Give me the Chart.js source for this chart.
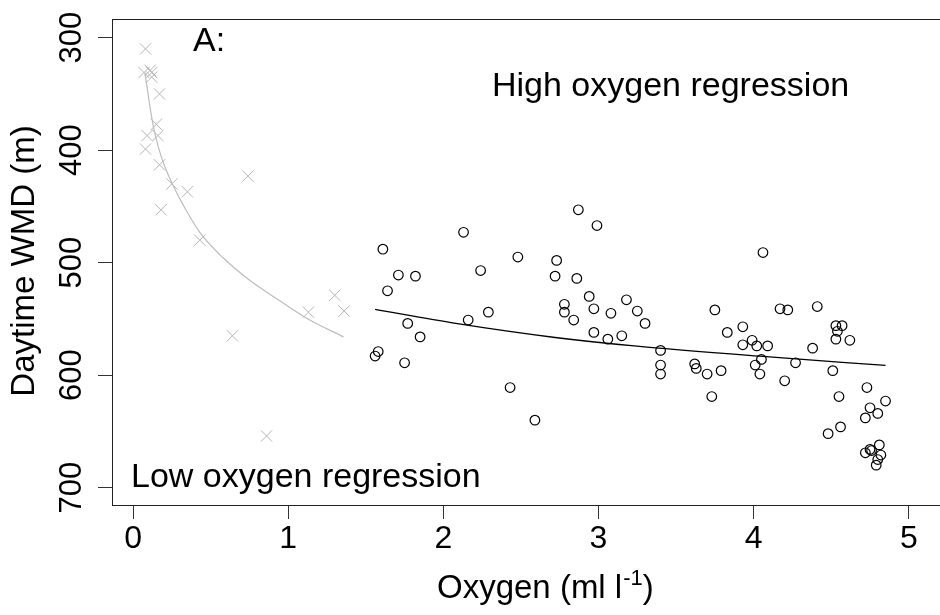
<!DOCTYPE html>
<html>
<head>
<meta charset="utf-8">
<script src="https://cdn.jsdelivr.net/npm/chart.js@4.4.1/dist/chart.umd.min.js"></script>
<style>
  html, body { margin: 0; padding: 0; background: #fff; overflow: hidden; }
  #wrap { width: 960px; height: 615px; }
</style>
</head>
<body>
<div id="wrap"><canvas id="chart" width="960" height="615"></canvas></div>
<script>
// low oxygen observations (x markers)
const lowX = [0.08, 0.07, 0.11, 0.12, 0.12, 0.17, 0.15, 0.09, 0.16, 0.08, 0.17, 0.25, 0.35, 0.18, 0.74, 0.43, 1.30, 1.13, 1.36, 0.64, 0.86];
const lowY = [310, 331, 329, 331, 335, 350, 377, 387, 387, 399, 413, 430, 437, 453, 423, 480, 529, 544, 543, 565, 654];

// high oxygen observations (circles)
const highX = [2.87, 2.99, 2.13, 1.61, 2.48, 2.73, 2.24, 1.71, 1.82, 2.72, 2.86, 1.64, 2.94, 2.78, 2.97, 2.78, 3.18, 3.25, 3.08, 2.29, 2.16, 2.84, 1.77, 3.30, 2.97, 3.06, 3.15, 1.85, 1.58, 1.56, 1.75, 2.43, 2.59,
  4.06, 3.75, 4.17, 4.22, 4.41, 3.83, 3.93, 3.93, 3.99, 4.02, 4.09, 4.53, 4.57, 4.54, 4.53, 4.62, 4.38, 3.40, 3.40, 3.40, 3.62, 3.63, 3.70, 3.79, 4.05, 4.01, 4.04, 4.20, 4.27, 4.51, 3.73, 4.55, 4.73, 4.85, 4.75, 4.80, 4.72, 4.56, 4.48,
  4.72, 4.75, 4.81, 4.82, 4.80, 4.79, 4.76];
const highY = [453, 467, 473, 488, 495, 498, 507, 511, 512, 512, 514, 525, 530, 537, 541, 544, 533, 543, 545, 544, 551, 551, 554, 554, 562, 568, 565, 566, 579, 583, 589, 611, 640,
  491, 542, 541, 542, 539, 562, 557, 573, 569, 574, 574, 556, 556, 561, 568, 569, 576, 578, 591, 599, 590, 594, 599, 596, 586, 591, 599, 605, 589, 596, 619, 619, 611, 623, 629, 634, 638, 646, 652,
  669, 666, 662, 671, 675, 680, 667];

// fitted regression curves
const lowFitX = [0.076, 0.09, 0.105, 0.128, 0.16, 0.2, 0.253, 0.34, 0.43, 0.575, 0.745, 0.936, 1.127, 1.357];
const lowFitY = [331, 344, 358, 377, 396, 413, 430, 453, 473, 495, 515, 533, 550, 566];
const highFitX = [1.56, 2.08, 2.72, 3.23, 4.08, 4.85];
const highFitY = [541.6, 554, 566.5, 574, 583.6, 591.3];

const xTicks = [0, 1, 2, 3, 4, 5];
const yTicks = [300, 400, 500, 600, 700];

const pts = (xs, ys) => xs.map((x, i) => ({ x: x, y: ys[i] }));

const FONT = '"Liberation Sans", Arial, sans-serif';

const textPlugin = {
  id: "texts",
  afterDraw(chart) {
    const ctx = chart.ctx;
    const a = chart.chartArea;
    const xs = chart.scales.x;
    const ys = chart.scales.y;
    ctx.save();
    // box
    ctx.strokeStyle = "#222";
    ctx.lineWidth = 1;
    ctx.strokeRect(Math.round(a.left) + 0.5, Math.round(a.top) + 0.5, a.right - a.left + 20, a.bottom - a.top);

    ctx.fillStyle = "#000";
    // x tick labels
    ctx.font = "32px " + FONT;
    ctx.textAlign = "center";
    ctx.textBaseline = "alphabetic";
    xTicks.forEach((v) => ctx.fillText(String(v), xs.getPixelForValue(v), 548));

    // y tick labels, rotated
    ctx.font = "31px " + FONT;
    yTicks.forEach((v) => {
      ctx.save();
      ctx.translate(80.5, ys.getPixelForValue(v));
      ctx.rotate(-Math.PI / 2);
      ctx.fillText(String(v), 0, 0);
      ctx.restore();
    });

    // y title
    ctx.font = "33px " + FONT;
    ctx.save();
    ctx.translate(34, 261);
    ctx.rotate(-Math.PI / 2);
    ctx.fillText("Daytime WMD (m)", 0, 0);
    ctx.restore();

    // x title with superscript
    ctx.textAlign = "left";
    let x0 = 437;
    const base = 598;
    ctx.font = "33px " + FONT;
    const p1 = "Oxygen (ml l";
    ctx.fillText(p1, x0, base);
    x0 += ctx.measureText(p1).width;
    ctx.font = "22px " + FONT;
    ctx.fillText("-1", x0 + 1, base - 13);
    x0 += ctx.measureText("-1").width + 1;
    ctx.font = "33px " + FONT;
    ctx.fillText(")", x0, base);

    // annotations
    ctx.font = "34px " + FONT;
    ctx.fillText("A:", 193, 51);
    ctx.fillText("High oxygen regression", 492, 96);
    ctx.fillText("Low oxygen regression", 131, 487);
    ctx.restore();
  },
};

new Chart(document.getElementById("chart"), {
  type: "scatter",
  data: {
    datasets: [
      {
        label: "low fit",
        data: pts(lowFitX, lowFitY),
        showLine: true,
        pointRadius: 0,
        borderColor: "#bdbdbd",
        borderWidth: 1.2,
        cubicInterpolationMode: "monotone",
      },
      {
        label: "high fit",
        data: pts(highFitX, highFitY),
        showLine: true,
        pointRadius: 0,
        borderColor: "#000",
        borderWidth: 1.3,
        cubicInterpolationMode: "monotone",
      },
      {
        label: "low",
        data: pts(lowX, lowY),
        pointStyle: "crossRot",
        pointRadius: 8,
        pointBorderColor: "#b5b5b5",
        pointBorderWidth: 1,
      },
      {
        label: "high",
        data: pts(highX, highY),
        pointStyle: "circle",
        pointRadius: 4.8,
        pointBackgroundColor: "rgba(0,0,0,0)",
        pointBorderColor: "#000",
        pointBorderWidth: 1.2,
      },
    ],
  },
  options: {
    responsive: false,
    animation: false,
    devicePixelRatio: 1,
    layout: { padding: { top: 19, left: 0, right: 0, bottom: 0 } },
    plugins: { legend: { display: false }, tooltip: { enabled: false } },
    scales: {
      x: {
        type: "linear",
        min: -0.136,
        max: 5.272,
        afterFit: (s) => { s.height = 110; },
        afterBuildTicks: (s) => { s.ticks = xTicks.map((v) => ({ value: v })); },
        ticks: { display: false },
        grid: { drawOnChartArea: false, drawTicks: true, tickLength: 14, color: "#333", lineWidth: 1 },
        border: { display: false },
      },
      y: {
        type: "linear",
        reverse: true,
        min: 283.4,
        max: 715.4,
        afterFit: (s) => { s.width = 112; },
        afterBuildTicks: (s) => { s.ticks = yTicks.map((v) => ({ value: v })); },
        ticks: { display: false },
        grid: { drawOnChartArea: false, drawTicks: true, tickLength: 14, color: "#333", lineWidth: 1 },
        border: { display: false },
      },
    },
  },
  plugins: [textPlugin],
});
</script>
</body>
</html>
